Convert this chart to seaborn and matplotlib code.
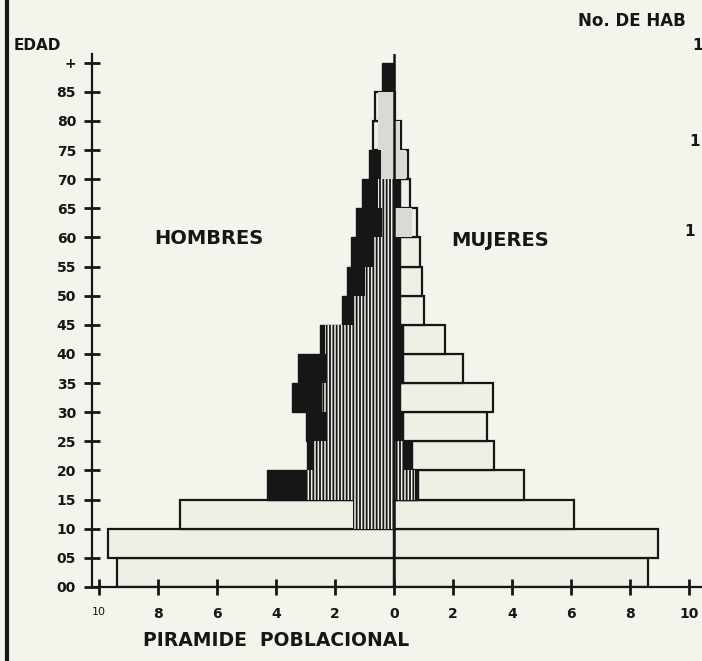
import numpy as np
import pandas as pd
import matplotlib
matplotlib.use("Agg")
import matplotlib.pyplot as plt
import seaborn as sns
from matplotlib.lines import Line2D

# ---------------- data ----------------
age_start = [0, 5, 10, 15, 20, 25, 30, 35, 40, 45, 50, 55, 60, 65, 70, 75, 80, 85]
age_tick_labels = ["00", "05", "10", "15", "20", "25", "30", "35", "40", "45",
                   "50", "55", "60", "65", "70", "75", "80", "85", "+"]
x_tick_values = [-10, -8, -6, -4, -2, 0, 2, 4, 6, 8, 10]
x_tick_labels = ["10", "8", "6", "4", "2", "0", "2", "4", "6", "8", "10"]

# open (white) bars
male_outline = [9.4, 9.7, 7.25, 0, 0, 0, 0, 0, 0, 0, 0, 0, 0, 0, 0, 0.7, 0.65, 0]
female_outline = [8.6, 8.95, 6.1, 4.4, 3.4, 3.15, 3.35, 2.35, 1.73, 1.0, 0.95, 0.88,
                  0.77, 0.54, 0.47, 0.25, 0.05, 0]
# solid black bars
male_black = [0, 0, 0, 4.3, 2.95, 3.0, 3.45, 3.25, 2.5, 1.75, 1.6, 1.45, 1.3, 1.1,
              0.85, 0, 0, 0.4]
female_black = [0, 0, 0, 0.8, 0.6, 0.3, 0.2, 0.3, 0.3, 0.2, 0.2, 0.2, 0, 0.2, 0, 0, 0, 0]
# light grey bars (upper ages)
male_grey = [0, 0, 0, 0, 0, 0, 0, 0, 0, 0, 0, 0, 0, 0, 0.45, 0.55, 0.55, 0]
female_grey = [0, 0, 0, 0, 0, 0, 0, 0, 0, 0, 0, 0, 0.62, 0, 0.4, 0.2, 0, 0]
# striped bars
male_striped = [0, 0, 1.4, 2.95, 2.75, 2.3, 2.45, 2.3, 2.35, 1.4, 1.0, 0.7, 0.4, 0.55,
                0, 0, 0, 0]
female_striped = [0, 0, 0, 0.7, 0.3, 0, 0, 0, 0, 0, 0, 0, 0, 0, 0, 0, 0, 0]

PAPER = "#f3f5ec"
BARFILL = "#eef0e6"
INK = "#161616"
GREY = "#d9dad3"

sns.set_theme(style="white")
plt.rcParams["font.family"] = ["DejaVu Sans"]
plt.rcParams["hatch.linewidth"] = 1.1

fig = plt.figure(figsize=(7.02, 6.61), dpi=100, facecolor=PAPER)
ax = fig.add_axes([92 / 702, (661 - 587) / 661, 610 / 702, (587 - 54) / 661])
ax.set_facecolor(PAPER)


def layer(male, female, color, **kw):
    mids = [a + 2.5 for a in age_start]
    df = pd.DataFrame({
        "edad": mids + mids,
        "valor": [-m for m in male] + list(female),
        "sexo": ["H"] * len(mids) + ["M"] * len(mids),
    })
    df = df[df["valor"] != 0]
    sns.barplot(data=df, x="valor", y="edad", hue="sexo", orient="y",
                native_scale=True, dodge=False, width=1, errorbar=None,
                saturation=1, palette={"H": color, "M": color}, legend=False,
                ax=ax, **kw)


layer(male_outline, female_outline, BARFILL, edgecolor=INK, linewidth=1.6)
layer(male_black, female_black, INK, edgecolor=INK, linewidth=1.0)
layer(male_grey, female_grey, GREY, edgecolor=GREY, linewidth=0)
layer(male_striped, female_striped, INK, edgecolor="#f0f0ea", linewidth=0,
      hatch="|||||")

ax.axvline(0, color=INK, lw=1.8, zorder=10)

ax.set_xlim(-(394 - 92) / 29.5, (702 - 394) / 29.5)
ax.set_ylim(0, 91.5)
ax.set_yticks(np.arange(0, 91, 5))
ax.set_yticklabels(age_tick_labels)
ax.set_xticks(x_tick_values)
ax.set_xticklabels(x_tick_labels)
ax.set_xlabel("")
ax.set_ylabel("")
ax.set_axisbelow(False)
ax.xaxis.set_zorder(12)
ax.yaxis.set_zorder(12)

for s in ["top", "right"]:
    ax.spines[s].set_visible(False)
for s in ["left", "bottom"]:
    ax.spines[s].set_visible(True)
    ax.spines[s].set_color(INK)
    ax.spines[s].set_linewidth(1.6)
    ax.spines[s].set_zorder(11)

ax.tick_params(axis="both", which="major", direction="inout", length=11, width=2.0,
               colors=INK, labelsize=10, left=True, bottom=True)
ax.tick_params(axis="x", pad=9)
ax.tick_params(axis="y", pad=6)
for lbl in ax.get_xticklabels() + ax.get_yticklabels():
    lbl.set_fontweight("bold")
ax.get_xticklabels()[0].set_fontsize(8)
ax.get_xticklabels()[0].set_fontweight("normal")

# texts
fig.text(14 / 702, 1 - 45 / 661, "EDAD", fontsize=11, fontweight="bold",
         color=INK, ha="left", va="center")
fig.text(209 / 702, 1 - 239 / 661, "HOMBRES", fontsize=14, fontweight="bold",
         color=INK, ha="center", va="center")
fig.text(500 / 702, 1 - 240 / 661, "MUJERES", fontsize=14, fontweight="bold",
         color=INK, ha="center", va="center")
fig.text(276 / 702, 1 - 641 / 661, "PIRAMIDE  POBLACIONAL", fontsize=13.5,
         fontweight="bold", color=INK, ha="center", va="center")
fig.text(578 / 702, 1 - 21 / 661, "No. DE HAB", fontsize=12, fontweight="bold",
         color=INK, ha="left", va="center")
for yy, xx in [(45, 692), (142, 689), (232, 684)]:
    fig.text(xx / 702, 1 - yy / 661, "1", fontsize=11, fontweight="bold",
             color=INK, ha="left", va="center")

# paper edge on the left
fig.add_artist(Line2D([7 / 702, 7 / 702], [0, 1], transform=fig.transFigure,
                      color=INK, lw=3))

fig.savefig("out.png", dpi=100, facecolor=PAPER)
